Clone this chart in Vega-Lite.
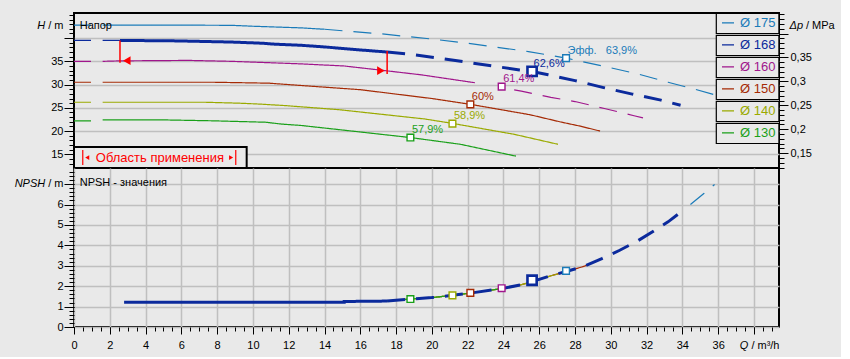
{
 "$schema": "https://vega.github.io/schema/vega-lite/v6.json",
 "background": "#e9e9e9",
 "padding": {"left": 13, "top": 12, "right": 5, "bottom": 5},
 "spacing": 0,
 "bounds": "flush",
 "config": {
  "font": "Liberation Sans",
  "view": {"stroke": "#000000", "strokeWidth": 2},
  "axis": {"labelFont": "Liberation Sans", "labelFontSize": 11, "labelColor": "#000000", "tickColor": "#000000", "tickWidth": 1, "domainColor": "#000000", "gridColor": "#bfbfbf", "gridWidth": 1.5, "titleFont": "Liberation Sans", "titleFontSize": 11, "titleFontWeight": "normal", "titleColor": "#000000", "labelOverlap": false, "labelFlush": false, "labelBound": false}
 },
 "resolve": {"scale": {"color": "independent", "strokeDash": "independent", "shape": "independent"}, "legend": {"color": "independent", "strokeDash": "independent", "shape": "independent"}},
 "datasets": {
  "curves": [
   {"d":175,"s":0,"Q":0,"H":42.8},{"d":175,"s":0,"Q":0.95,"H":42.8},
   {"d":175,"s":2,"Q":1.6,"H":42.8},{"d":175,"s":2,"Q":5,"H":42.8},{"d":175,"s":2,"Q":8.8,"H":42.75},{"d":175,"s":2,"Q":10,"H":42.55},{"d":175,"s":2,"Q":12.7,"H":42.2},{"d":175,"s":2,"Q":14,"H":41.9},
   {"d":175,"s":3,"Q":14,"H":41.9},{"d":175,"s":3,"Q":17.2,"H":40.9},{"d":175,"s":3,"Q":20,"H":39.8},{"d":175,"s":3,"Q":22,"H":38.9},{"d":175,"s":3,"Q":25.4,"H":37.1},{"d":175,"s":3,"Q":27.5,"H":35.7},{"d":175,"s":3,"Q":30,"H":33.6},{"d":175,"s":3,"Q":31.5,"H":32.3},{"d":175,"s":3,"Q":33.2,"H":30.5},{"d":175,"s":3,"Q":34.7,"H":29.0},{"d":175,"s":3,"Q":35.8,"H":27.8},{"d":175,"s":3,"Q":36.1,"H":27.4},
   {"d":168,"s":0,"Q":0,"H":39.5},{"d":168,"s":0,"Q":0.95,"H":39.5},
   {"d":168,"s":1,"Q":1.6,"H":39.5},{"d":168,"s":1,"Q":2.57,"H":39.5},
   {"d":168,"s":2,"Q":2.57,"H":39.5},{"d":168,"s":2,"Q":5.7,"H":39.4},{"d":168,"s":2,"Q":8.8,"H":39.15},{"d":168,"s":2,"Q":10.5,"H":38.9},{"d":168,"s":2,"Q":11.2,"H":38.7},{"d":168,"s":2,"Q":12.7,"H":38.45},{"d":168,"s":2,"Q":14,"H":38.1},{"d":168,"s":2,"Q":16,"H":37.45},{"d":168,"s":2,"Q":17.5,"H":37.0},
   {"d":168,"s":3,"Q":17.5,"H":37.0},{"d":168,"s":3,"Q":18.6,"H":36.6},{"d":168,"s":3,"Q":20.2,"H":35.8},{"d":168,"s":3,"Q":21.8,"H":34.9},{"d":168,"s":3,"Q":23.4,"H":34.0},{"d":168,"s":3,"Q":24.9,"H":33.15},{"d":168,"s":3,"Q":25.6,"H":32.8},{"d":168,"s":3,"Q":26.5,"H":32.1},{"d":168,"s":3,"Q":28.0,"H":30.85},{"d":168,"s":3,"Q":29.6,"H":29.35},{"d":168,"s":3,"Q":31.2,"H":27.95},{"d":168,"s":3,"Q":32.8,"H":26.65},{"d":168,"s":3,"Q":33.9,"H":25.55},
   {"d":160,"s":0,"Q":0,"H":35.0},{"d":160,"s":0,"Q":0.95,"H":35.0},
   {"d":160,"s":2,"Q":1.6,"H":35.0},{"d":160,"s":2,"Q":2.6,"H":35.1},{"d":160,"s":2,"Q":6.4,"H":35.2},{"d":160,"s":2,"Q":8.8,"H":35.0},{"d":160,"s":2,"Q":10.6,"H":34.75},{"d":160,"s":2,"Q":12.7,"H":34.45},{"d":160,"s":2,"Q":15.1,"H":34.0},{"d":160,"s":2,"Q":17.5,"H":32.95},{"d":160,"s":2,"Q":19.4,"H":32.1},{"d":160,"s":2,"Q":22.4,"H":30.4},
   {"d":160,"s":3,"Q":24.6,"H":28.85},{"d":160,"s":3,"Q":25.0,"H":28.6},{"d":160,"s":3,"Q":26.65,"H":27.25},{"d":160,"s":3,"Q":28.0,"H":26.35},{"d":160,"s":3,"Q":29.7,"H":24.8},{"d":160,"s":3,"Q":31.3,"H":23.3},{"d":160,"s":3,"Q":31.8,"H":22.85},
   {"d":150,"s":0,"Q":0,"H":30.5},{"d":150,"s":0,"Q":0.95,"H":30.5},
   {"d":150,"s":2,"Q":1.6,"H":30.5},{"d":150,"s":2,"Q":7.8,"H":30.5},{"d":150,"s":2,"Q":10.9,"H":30.3},{"d":150,"s":2,"Q":12.7,"H":29.8},{"d":150,"s":2,"Q":16,"H":28.9},{"d":150,"s":2,"Q":20,"H":27.0},{"d":150,"s":2,"Q":22.15,"H":25.75},{"d":150,"s":2,"Q":25.5,"H":23.5},{"d":150,"s":2,"Q":27.2,"H":21.95},{"d":150,"s":2,"Q":28.3,"H":21.05},{"d":150,"s":2,"Q":29.4,"H":20.0},
   {"d":140,"s":0,"Q":0,"H":26.2},{"d":140,"s":0,"Q":0.95,"H":26.2},
   {"d":140,"s":2,"Q":1.6,"H":26.2},{"d":140,"s":2,"Q":7.3,"H":26.2},{"d":140,"s":2,"Q":9.2,"H":26.0},{"d":140,"s":2,"Q":10.4,"H":25.8},{"d":140,"s":2,"Q":11.9,"H":25.45},{"d":140,"s":2,"Q":14.8,"H":24.6},{"d":140,"s":2,"Q":19.6,"H":22.6},{"d":140,"s":2,"Q":21.15,"H":21.65},{"d":140,"s":2,"Q":24.6,"H":19.3},{"d":140,"s":2,"Q":27.05,"H":17.15},
   {"d":130,"s":0,"Q":0,"H":22.2},{"d":130,"s":0,"Q":0.95,"H":22.2},
   {"d":130,"s":2,"Q":1.6,"H":22.4},{"d":130,"s":2,"Q":5.0,"H":22.4},{"d":130,"s":2,"Q":7.8,"H":22.2},{"d":130,"s":2,"Q":10.7,"H":21.9},{"d":130,"s":2,"Q":11.6,"H":21.5},{"d":130,"s":2,"Q":12.7,"H":21.2},{"d":130,"s":2,"Q":16,"H":19.8},{"d":130,"s":2,"Q":18.8,"H":18.6},{"d":130,"s":2,"Q":21.6,"H":17.15},{"d":130,"s":2,"Q":24.7,"H":14.6}
  ],
  "npsh": [
   {"d":168,"s":2,"Q":2.8,"N":1.21},{"d":168,"s":2,"Q":15.1,"N":1.21},{"d":168,"s":2,"Q":15.1,"N":1.25},{"d":168,"s":2,"Q":17.5,"N":1.27},
   {"d":168,"s":3,"Q":17.5,"N":1.27},{"d":168,"s":3,"Q":18.8,"N":1.37},{"d":168,"s":3,"Q":20,"N":1.44},{"d":168,"s":3,"Q":21.15,"N":1.55},{"d":168,"s":3,"Q":22.15,"N":1.66},{"d":168,"s":3,"Q":23.9,"N":1.88},{"d":168,"s":3,"Q":25,"N":2.07},{"d":168,"s":3,"Q":25.6,"N":2.22},{"d":168,"s":3,"Q":26.5,"N":2.47},{"d":168,"s":3,"Q":27.5,"N":2.72},{"d":168,"s":3,"Q":28.5,"N":2.97},{"d":168,"s":3,"Q":29.5,"N":3.35},{"d":168,"s":3,"Q":30.5,"N":3.76},{"d":168,"s":3,"Q":31.5,"N":4.22},{"d":168,"s":3,"Q":32.5,"N":4.76},{"d":168,"s":3,"Q":33.2,"N":5.15},{"d":168,"s":3,"Q":33.9,"N":5.62},
   {"d":150,"s":2,"Q":17.3,"N":1.26},{"d":150,"s":2,"Q":18.8,"N":1.37},{"d":150,"s":2,"Q":20,"N":1.44},{"d":150,"s":2,"Q":21.15,"N":1.55},{"d":150,"s":2,"Q":22.15,"N":1.66},{"d":150,"s":2,"Q":23.9,"N":1.88},{"d":150,"s":2,"Q":25,"N":2.07},{"d":150,"s":2,"Q":25.6,"N":2.22},{"d":150,"s":2,"Q":26.5,"N":2.47},{"d":150,"s":2,"Q":27.5,"N":2.72},{"d":150,"s":2,"Q":28.5,"N":2.97},{"d":150,"s":2,"Q":29.4,"N":3.31},
   {"d":140,"s":2,"Q":17.3,"N":1.26},{"d":140,"s":2,"Q":18.8,"N":1.37},{"d":140,"s":2,"Q":20,"N":1.44},{"d":140,"s":2,"Q":21.15,"N":1.55},{"d":140,"s":2,"Q":22.15,"N":1.66},{"d":140,"s":2,"Q":23.9,"N":1.88},{"d":140,"s":2,"Q":25,"N":2.07},{"d":140,"s":2,"Q":25.6,"N":2.22},{"d":140,"s":2,"Q":26.5,"N":2.47},{"d":140,"s":2,"Q":27.05,"N":2.6},
   {"d":130,"s":2,"Q":17.3,"N":1.26},{"d":130,"s":2,"Q":18.8,"N":1.37},{"d":130,"s":2,"Q":20,"N":1.44},{"d":130,"s":2,"Q":21.15,"N":1.55},{"d":130,"s":2,"Q":22.15,"N":1.66},{"d":130,"s":2,"Q":23.9,"N":1.88},{"d":130,"s":2,"Q":24.7,"N":2.0},
   {"d":175,"s":3,"Q":34.45,"N":6.0},{"d":175,"s":3,"Q":35.2,"N":6.54},{"d":175,"s":3,"Q":35.8,"N":6.98}
  ],
  "bep": [
   {"d":175,"Q":27.5,"H":35.7,"N":2.75,"lbl":"Эфф.\u00a0\u00a0\u00a063,9%"},
   {"d":168,"Q":25.6,"H":32.85,"N":2.29,"lbl":"62,6%"},
   {"d":160,"Q":23.9,"H":29.55,"N":1.9,"lbl":"61,4%"},
   {"d":150,"Q":22.15,"H":25.75,"N":1.67,"lbl":"60%"},
   {"d":140,"Q":21.15,"H":21.6,"N":1.55,"lbl":"58,9%"},
   {"d":130,"Q":18.8,"H":18.6,"N":1.37,"lbl":"57,9%"}
  ]
 },
 "vconcat": [
  {
   "width": 705, "height": 155,
   "layer": [
    {
     "layer": [
      {
       "data": {"name": "curves"},
       "transform": [{"filter": "datum.d != 168"}],
       "mark": {"type": "line", "strokeWidth": 1.2},
       "encoding": {
        "x": {"field": "Q", "type": "quantitative", "scale": {"domain": [0, 39.4], "nice": false, "zero": false}, "axis": {"orient": "bottom", "values": [2,4,6,8,10,12,14,16,18,20,22,24,26,28,30,32,34,36,38], "labels": false, "ticks": false, "domain": false, "title": null, "grid": true}},
        "y": {"field": "H", "type": "quantitative", "scale": {"domain": [12.05, 45.4], "nice": false, "zero": false}, "axis": {"orient": "left", "values": [15,20,25,30,35,40], "labelExpr": "datum.value > 37 ? '' : datum.label", "tickSize": 10, "labelPadding": 1, "grid": true, "domain": false, "title": "/ m", "titleAngle": 0, "titleAlign": "right", "titleBaseline": "middle", "titleX": -11, "titleY": 12.5}},
        "color": {"field": "d", "type": "nominal", "scale": {"domain": [175,168,160,150,140,130], "range": ["#1a7bb9","#0b2a9c","#a0168c","#a52a05","#9aaa00","#1aa01a"]},
         "legend": {"orient": "top-right", "offset": 0, "title": null, "symbolType": "stroke", "symbolSize": 144, "symbolStrokeWidth": 1.2, "symbolOffset": 5, "labelFontSize": 13, "labelFont": "Liberation Sans", "padding": 0, "rowPadding": 0, "clipHeight": 19.6, "labelOffset": 5, "labelExpr": "'Ø ' + datum.label", "fillColor": "#e9e9e9",
          "encode": {
           "labels": {"update": {"fill": {"signal": "datum.value == 175 ? '#1a7bb9' : datum.value == 168 ? '#0b2a9c' : datum.value == 160 ? '#a0168c' : datum.value == 150 ? '#a52a05' : datum.value == 140 ? '#9aaa00' : '#1aa01a'"}}},
           "symbols": {"update": {"strokeWidth": {"value": 1.2}, "strokeDash": {"value": [1, 0]}}},
           "entries": {"update": {"width": {"value": 62}, "height": {"value": 19.6}, "fill": {"value": "#e9e9e9"}, "stroke": {"value": "#000000"}, "strokeWidth": {"value": 1.2}}}
          }}},
        "detail": {"field": "s"},
        "strokeDash": {"field": "s", "type": "nominal", "scale": {"domain": [0,1,2,3], "range": [[1,0],[1,0],[1,0],[18,11]]}, "legend": null}
       }
      },
      {
       "data": {"name": "curves"},
       "transform": [{"filter": "datum.d == 168"}],
       "mark": {"type": "line"},
       "encoding": {
        "x": {"field": "Q", "type": "quantitative", "axis": null},
        "y": {"field": "H", "type": "quantitative", "axis": null},
        "color": {"field": "d", "type": "nominal"},
        "detail": {"field": "s"},
        "strokeWidth": {"condition": {"test": "datum.s >= 2", "value": 3}, "value": 1.2},
        "strokeDash": {"field": "s", "type": "nominal", "legend": null}
       }
      },
      {
       "data": {"values": [{}]},
       "mark": {"type": "rect", "fill": "#e9e9e9", "stroke": "#000000", "strokeWidth": 2},
       "encoding": {
        "x": {"datum": 0, "type": "quantitative", "axis": null}, "x2": {"datum": 9.65},
        "y": {"datum": 12.05, "type": "quantitative", "axis": null}, "y2": {"datum": 16.57}
       }
      },
      {
       "data": {"values": [{"t": "Область применения"}]},
       "mark": {"type": "text", "fontSize": 13, "color": "#ff0000", "align": "center", "baseline": "middle"},
       "encoding": {
        "x": {"datum": 4.8, "type": "quantitative", "axis": null},
        "y": {"datum": 14.3, "type": "quantitative", "axis": null},
        "text": {"field": "t"}
       }
      },
      {
       "data": {"values": [{"Q": 0.49}, {"Q": 9.04}]},
       "mark": {"type": "rule", "color": "#ff0000", "strokeWidth": 1.2},
       "encoding": {
        "x": {"field": "Q", "type": "quantitative", "axis": null},
        "y": {"datum": 12.7, "type": "quantitative", "axis": null}, "y2": {"datum": 15.9}
       }
      },
      {
       "data": {"values": [{"Q": 0.74, "dir": "l"}, {"Q": 8.78, "dir": "r"}]},
       "mark": {"type": "point", "filled": true, "color": "#ff0000", "size": 22, "opacity": 1},
       "encoding": {
        "x": {"field": "Q", "type": "quantitative", "axis": null},
        "y": {"datum": 14.3, "type": "quantitative", "axis": null},
        "shape": {"field": "dir", "type": "nominal", "scale": {"domain": ["l","r"], "range": ["triangle-left","triangle-right"]}, "legend": null}
       }
      },
      {
       "data": {"values": [{"Q": 2.57, "Ht": 39.5, "Hb": 34.7}, {"Q": 17.5, "Ht": 37.2, "Hb": 32.3}]},
       "mark": {"type": "rule", "color": "#ff0000", "strokeWidth": 1.5},
       "encoding": {
        "x": {"field": "Q", "type": "quantitative", "axis": null},
        "y": {"field": "Ht", "type": "quantitative", "axis": null}, "y2": {"field": "Hb"}
       }
      },
      {
       "data": {"values": [{"Q": 2.95, "H": 35.15, "dir": "l"}, {"Q": 17.15, "H": 33.0, "dir": "r"}]},
       "mark": {"type": "point", "filled": true, "color": "#ff0000", "size": 75, "opacity": 1},
       "encoding": {
        "x": {"field": "Q", "type": "quantitative", "axis": null},
        "y": {"field": "H", "type": "quantitative", "axis": null},
        "shape": {"field": "dir", "type": "nominal", "legend": null}
       }
      },
      {
       "data": {"name": "bep"},
       "mark": {"type": "point", "shape": "square", "filled": false, "fill": "#ffffff", "opacity": 1},
       "encoding": {
        "x": {"field": "Q", "type": "quantitative", "axis": null},
        "y": {"field": "H", "type": "quantitative", "axis": null},
        "color": {"field": "d", "type": "nominal"},
        "size": {"condition": {"test": "datum.d == 168", "value": 85}, "value": 45},
        "strokeWidth": {"condition": {"test": "datum.d == 168", "value": 2.6}, "value": 1.4}
       }
      },
      {
       "data": {"name": "bep"},
       "mark": {"type": "text", "fontSize": 11, "align": "left", "baseline": "middle", "dx": 1.5, "dy": -7.5},
       "encoding": {
        "x": {"field": "Q", "type": "quantitative", "axis": null},
        "y": {"field": "H", "type": "quantitative", "axis": null},
        "color": {"field": "d", "type": "nominal"},
        "text": {"field": "lbl"}
       }
      },
      {
       "data": {"values": [{"t": "Напор"}]},
       "mark": {"type": "text", "fontSize": 11, "align": "left", "baseline": "middle", "color": "#000000"},
       "encoding": {
        "x": {"datum": 0.32, "type": "quantitative", "axis": null},
        "y": {"datum": 42.7, "type": "quantitative", "axis": null},
        "text": {"field": "t"}
       }
      },
      {
       "data": {"values": [{}]},
       "mark": {"type": "point", "opacity": 0},
       "encoding": {
        "y": {"datum": 20, "type": "quantitative", "axis": {"orient": "left", "values": [13,14,15,16,17,18,19,20,21,22,23,24,25,26,27,28,29,30,31,32,33,34,35,36,37,38,39,40,41,42,43,44,45], "labels": false, "tickSize": 5, "grid": false, "domain": false, "title": "H", "titleFontStyle": "italic", "titleAngle": 0, "titleAlign": "right", "titleBaseline": "middle", "titleX": -29.3, "titleY": 12.5}}
       }
      }
     ],
     "resolve": {"axis": {"y": "independent"}}
    },
    {
     "layer": [
      {
       "data": {"values": [{}]},
       "mark": {"type": "point", "opacity": 0},
       "encoding": {
        "y": {"datum": 0.2, "type": "quantitative", "scale": {"domain": [0.119, 0.443], "nice": false, "zero": false}, "axis": {"orient": "right", "values": [0.15,0.2,0.25,0.3,0.35,0.4], "labelExpr": "datum.value > 0.37 ? '' : replace(format(datum.value, '.2~f'), '.', ',')", "tickSize": 9, "labelPadding": 2, "grid": false, "domain": false, "title": "/ MPa", "titleAngle": 0, "titleAlign": "left", "titleBaseline": "middle", "titleX": 26.5, "titleY": 12.5}}
       }
      },
      {
       "data": {"values": [{}]},
       "mark": {"type": "point", "opacity": 0},
       "encoding": {
        "y": {"datum": 0.2, "type": "quantitative", "axis": {"orient": "right", "values": [0.12,0.13,0.14,0.15,0.16,0.17,0.18,0.19,0.2,0.21,0.22,0.23,0.24,0.25,0.26,0.27,0.28,0.29,0.3,0.31,0.32,0.33,0.34,0.35,0.36,0.37,0.38,0.39,0.4,0.41,0.42,0.43,0.44], "labels": false, "tickSize": 5, "grid": false, "domain": false, "title": "Δp", "titleFontStyle": "italic", "titleAngle": 0, "titleAlign": "left", "titleBaseline": "middle", "titleX": 10, "titleY": 12.5}}
       }
      }
     ],
     "resolve": {"axis": {"y": "independent"}}
    }
   ],
   "resolve": {"scale": {"y": "independent"}, "axis": {"y": "independent"}}
  },
  {
   "width": 705, "height": 159,
   "layer": [
    {
     "data": {"name": "npsh"},
     "transform": [{"filter": "datum.d != 168"}],
     "mark": {"type": "line", "strokeWidth": 1.2},
     "encoding": {
      "x": {"field": "Q", "type": "quantitative", "scale": {"domain": [0, 39.4], "nice": false, "zero": false}, "axis": {"orient": "bottom", "values": [0,2,4,6,8,10,12,14,16,18,20,22,24,26,28,30,32,34,36,38], "labelExpr": "datum.value > 37 ? '' : datum.label", "tickSize": 7, "labelPadding": 5, "grid": true, "domain": false, "title": "/ m³/h", "titleAngle": 0, "titleAlign": "right", "titleBaseline": "middle", "titleX": 705, "titleY": 18.3}},
      "y": {"field": "N", "type": "quantitative", "scale": {"domain": [0, 7.79], "nice": false, "zero": false}, "axis": {"orient": "left", "values": [0,1,2,3,4,5,6,7], "labelExpr": "datum.value > 6.5 ? '' : datum.label", "tickSize": 10, "labelPadding": 1, "grid": true, "domain": false, "title": "/ m", "titleAngle": 0, "titleAlign": "right", "titleBaseline": "middle", "titleX": -11, "titleY": 15.3}},
      "color": {"field": "d", "type": "nominal", "scale": {"domain": [175,168,160,150,140,130], "range": ["#1a7bb9","#0b2a9c","#a0168c","#a52a05","#9aaa00","#1aa01a"]}, "legend": null},
      "detail": {"field": "s"},
      "strokeDash": {"field": "s", "type": "nominal", "scale": {"domain": [0,1,2,3], "range": [[1,0],[1,0],[1,0],[18,11]]}, "legend": null}
     }
    },
    {
     "data": {"name": "npsh"},
     "transform": [{"filter": "datum.d == 168"}],
     "mark": {"type": "line", "strokeWidth": 3},
     "encoding": {
      "x": {"field": "Q", "type": "quantitative", "axis": null},
      "y": {"field": "N", "type": "quantitative", "axis": null},
      "color": {"field": "d", "type": "nominal", "legend": null},
      "detail": {"field": "s"},
      "strokeDash": {"field": "s", "type": "nominal", "legend": null}
     }
    },
    {
     "data": {"name": "bep"},
     "mark": {"type": "point", "shape": "square", "filled": false, "fill": "#ffffff", "opacity": 1},
     "encoding": {
      "x": {"field": "Q", "type": "quantitative", "axis": null},
      "y": {"field": "N", "type": "quantitative", "axis": null},
      "color": {"field": "d", "type": "nominal", "legend": null},
      "size": {"condition": {"test": "datum.d == 168", "value": 85}, "value": 45},
      "strokeWidth": {"condition": {"test": "datum.d == 168", "value": 2.6}, "value": 1.4}
     }
    },
    {
     "data": {"values": [{"t": "NPSH - значения"}]},
     "mark": {"type": "text", "fontSize": 11, "align": "left", "baseline": "middle", "color": "#000000"},
     "encoding": {
      "x": {"datum": 0.32, "type": "quantitative", "axis": null},
      "y": {"datum": 7.04, "type": "quantitative", "axis": null},
      "text": {"field": "t"}
     }
    },
    {
     "data": {"values": [{}]},
     "mark": {"type": "point", "opacity": 0},
     "encoding": {
      "x": {"datum": 10, "type": "quantitative", "axis": {"orient": "bottom", "values": [0,0.5,1,1.5,2,2.5,3,3.5,4,4.5,5,5.5,6,6.5,7,7.5,8,8.5,9,9.5,10,10.5,11,11.5,12,12.5,13,13.5,14,14.5,15,15.5,16,16.5,17,17.5,18,18.5,19,19.5,20,20.5,21,21.5,22,22.5,23,23.5,24,24.5,25,25.5,26,26.5,27,27.5,28,28.5,29,29.5,30,30.5,31,31.5,32,32.5,33,33.5,34,34.5,35,35.5,36,36.5,37,37.5,38,38.5,39], "labels": false, "tickSize": 4, "grid": false, "domain": false, "title": "Q", "titleFontStyle": "italic", "titleAngle": 0, "titleAlign": "right", "titleBaseline": "middle", "titleX": 673.8, "titleY": 18.3}},
      "y": {"datum": 1, "type": "quantitative", "axis": {"orient": "left", "values": [0,0.2,0.4,0.6,0.8,1,1.2,1.4,1.6,1.8,2,2.2,2.4,2.6,2.8,3,3.2,3.4,3.6,3.8,4,4.2,4.4,4.6,4.8,5,5.2,5.4,5.6,5.8,6,6.2,6.4,6.6,6.8,7,7.2,7.4,7.6], "labels": false, "tickSize": 5, "grid": false, "domain": false, "title": "NPSH", "titleFontStyle": "italic", "titleAngle": 0, "titleAlign": "right", "titleBaseline": "middle", "titleX": -29.3, "titleY": 15.3}}
     }
    }
   ],
   "resolve": {"axis": {"x": "independent", "y": "independent"}}
  }
 ]
}
